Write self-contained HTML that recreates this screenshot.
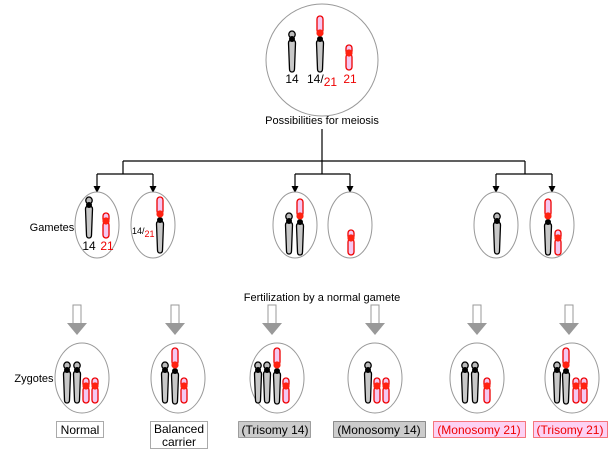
<!DOCTYPE html>
<html><head><meta charset="utf-8"><style>
body{margin:0;background:#fff}
svg{display:block;font-family:"Liberation Sans",sans-serif}
</style></head><body>
<svg width="610" height="449" viewBox="0 0 610 449" xmlns="http://www.w3.org/2000/svg">
<defs>
<g id="c14">
<path d="M-3.5 12 Q-3.5 9 0 9 Q3.5 9 3.5 12 L2.5 38 Q2.5 41 0 41 Q-2.5 41 -2.5 38 Z" fill="#c8c8c8" stroke="#000" stroke-width="1.3"/>
<ellipse cx="0" cy="3.5" rx="3.2" ry="3.5" fill="#bbb" stroke="#000" stroke-width="1.3"/>
<circle cx="0" cy="8" r="3" fill="#000"/>
</g>
<g id="c21">
<rect x="-3" y="0" width="6" height="9" rx="3" fill="#f4c8f0" stroke="#e00" stroke-width="1.3"/>
<rect x="-3" y="9" width="6" height="16" rx="3" fill="#f4c8f0" stroke="#e00" stroke-width="1.3"/>
<circle cx="0" cy="8" r="3.6" fill="#f21"/>
</g>
<g id="c1421">
<path d="M-3.5 27 Q-3.5 24 0 24 Q3.5 24 3.5 27 L2.5 53 Q2.5 56 0 56 Q-2.5 56 -2.5 53 Z" fill="#c8c8c8" stroke="#000" stroke-width="1.3"/>
<rect x="-3" y="0" width="6" height="17" rx="3" fill="#f4c8f0" stroke="#e00" stroke-width="1.3"/>
<circle cx="0" cy="23" r="3" fill="#000"/>
<circle cx="0" cy="17" r="3.6" fill="#f21"/>
</g>
<g id="arr">
<rect x="-4" y="0" width="8" height="19" fill="#fff" stroke="#999" stroke-width="1"/>
<polygon points="-10,18 10,18 0,30" fill="#999"/>
</g>
<polygon id="ah" points="-3.5,-7 3.5,-7 0,0" fill="#000"/>
</defs>

<!-- top -->
<ellipse cx="322" cy="60" rx="56" ry="56" fill="#fff" stroke="#999" stroke-width="1"/>
<use href="#c14" x="292" y="31"/>
<use href="#c1421" x="320" y="16"/>
<use href="#c21" x="349" y="45"/>
<text x="292" y="83" font-size="12" text-anchor="middle">14</text>
<text x="307" y="83" font-size="12">14/<tspan fill="#e00" dy="3">21</tspan></text>
<text x="350" y="83" font-size="12" fill="#e00" text-anchor="middle">21</text>
<text x="322" y="124" font-size="11" text-anchor="middle">Possibilities for meiosis</text>

<!-- tree -->
<g stroke="#000" stroke-width="1.2" fill="none">
<path d="M322 129V161M123 161H525M123 161V174M322 161V174M525 161V174M97 174H153M295 174H350M496 174H552"/>
<path d="M97 174V188M153 174V188M295 174V188M350 174V188M496 174V188M552 174V188"/>
</g>
<use href="#ah" x="97" y="193"/>
<use href="#ah" x="153" y="193"/>
<use href="#ah" x="295" y="193"/>
<use href="#ah" x="350" y="193"/>
<use href="#ah" x="496" y="193"/>
<use href="#ah" x="552" y="193"/>

<text x="52" y="231" font-size="11" text-anchor="middle">Gametes</text>
<g fill="#fff" stroke="#999" stroke-width="1">
<ellipse cx="97" cy="225" rx="22" ry="33"/>
<ellipse cx="153" cy="225" rx="22" ry="33"/>
<ellipse cx="295" cy="225" rx="22" ry="33"/>
<ellipse cx="350" cy="225" rx="22" ry="33"/>
<ellipse cx="496" cy="225" rx="22" ry="33"/>
<ellipse cx="552" cy="225" rx="22" ry="33"/>
</g>
<use href="#c14" x="89" y="197"/>
<use href="#c21" x="106" y="213"/>
<text x="89" y="250" font-size="12" text-anchor="middle">14</text>
<text x="107" y="250" font-size="12" fill="#e00" text-anchor="middle">21</text>
<use href="#c1421" x="160" y="197"/>
<text x="132" y="234" font-size="9">14/<tspan fill="#e00" dy="3">21</tspan></text>
<use href="#c14" x="289" y="213"/>
<use href="#c1421" x="300" y="199"/>
<use href="#c21" x="351" y="230"/>
<use href="#c14" x="497" y="213"/>
<use href="#c1421" x="548" y="199"/>
<use href="#c21" x="558" y="230"/>

<text x="322" y="301" font-size="11" text-anchor="middle">Fertilization by a normal gamete</text>
<use href="#arr" x="77" y="305"/>
<use href="#arr" x="175" y="305"/>
<use href="#arr" x="272" y="305"/>
<use href="#arr" x="375" y="305"/>
<use href="#arr" x="477" y="305"/>
<use href="#arr" x="569" y="305"/>

<text x="34" y="382" font-size="11" text-anchor="middle">Zygotes</text>
<g fill="#fff" stroke="#999" stroke-width="1">
<ellipse cx="82" cy="378" rx="27" ry="35"/>
<ellipse cx="178" cy="378" rx="27" ry="35"/>
<ellipse cx="277" cy="378" rx="27" ry="35"/>
<ellipse cx="375" cy="378" rx="27" ry="35"/>
<ellipse cx="477" cy="378" rx="27" ry="35"/>
<ellipse cx="572" cy="378" rx="27" ry="35"/>
</g>
<use href="#c14" x="67" y="362"/><use href="#c14" x="77" y="362"/>
<use href="#c21" x="86" y="378"/><use href="#c21" x="95" y="378"/>
<use href="#c14" x="165" y="362"/><use href="#c1421" x="175" y="348"/>
<use href="#c21" x="184" y="378"/>
<use href="#c14" x="258" y="362"/><use href="#c14" x="267" y="362"/><use href="#c1421" x="277" y="348"/>
<use href="#c21" x="286" y="378"/>
<use href="#c14" x="368" y="362"/>
<use href="#c21" x="377" y="378"/><use href="#c21" x="386" y="378"/>
<use href="#c14" x="465" y="362"/><use href="#c14" x="475" y="362"/>
<use href="#c21" x="487" y="378"/>
<use href="#c14" x="557" y="362"/><use href="#c1421" x="566" y="348"/>
<use href="#c21" x="576" y="378"/><use href="#c21" x="584" y="378"/>

<g font-size="12" text-anchor="middle">
<rect x="56.5" y="421.5" width="47" height="16" fill="#fff" stroke="#555" stroke-dasharray="1,1"/>
<text x="80" y="434">Normal</text>
<rect x="150.5" y="421.5" width="57" height="27" fill="#fff" stroke="#555" stroke-dasharray="1,1"/>
<text x="179" y="433">Balanced</text><text x="179" y="446">carrier</text>
<rect x="238.5" y="421.5" width="72" height="16" fill="#ccc" stroke="#555" stroke-dasharray="1,1"/>
<text x="275" y="434">(Trisomy 14)</text>
<rect x="333.5" y="421.5" width="92" height="16" fill="#ccc" stroke="#333" stroke-dasharray="1,1"/>
<text x="379" y="434">(Monosomy 14)</text>
<rect x="433.5" y="421.5" width="92" height="16" fill="#fcd2f4" stroke="#e00" stroke-dasharray="1,1"/>
<text x="479" y="434" fill="#e00">(Monosomy 21)</text>
<rect x="533.5" y="421.5" width="74" height="16" fill="#fcd2f4" stroke="#e00" stroke-dasharray="1,1"/>
<text x="570" y="434" fill="#e00">(Trisomy 21)</text>
</g>
</svg>
</body></html>
